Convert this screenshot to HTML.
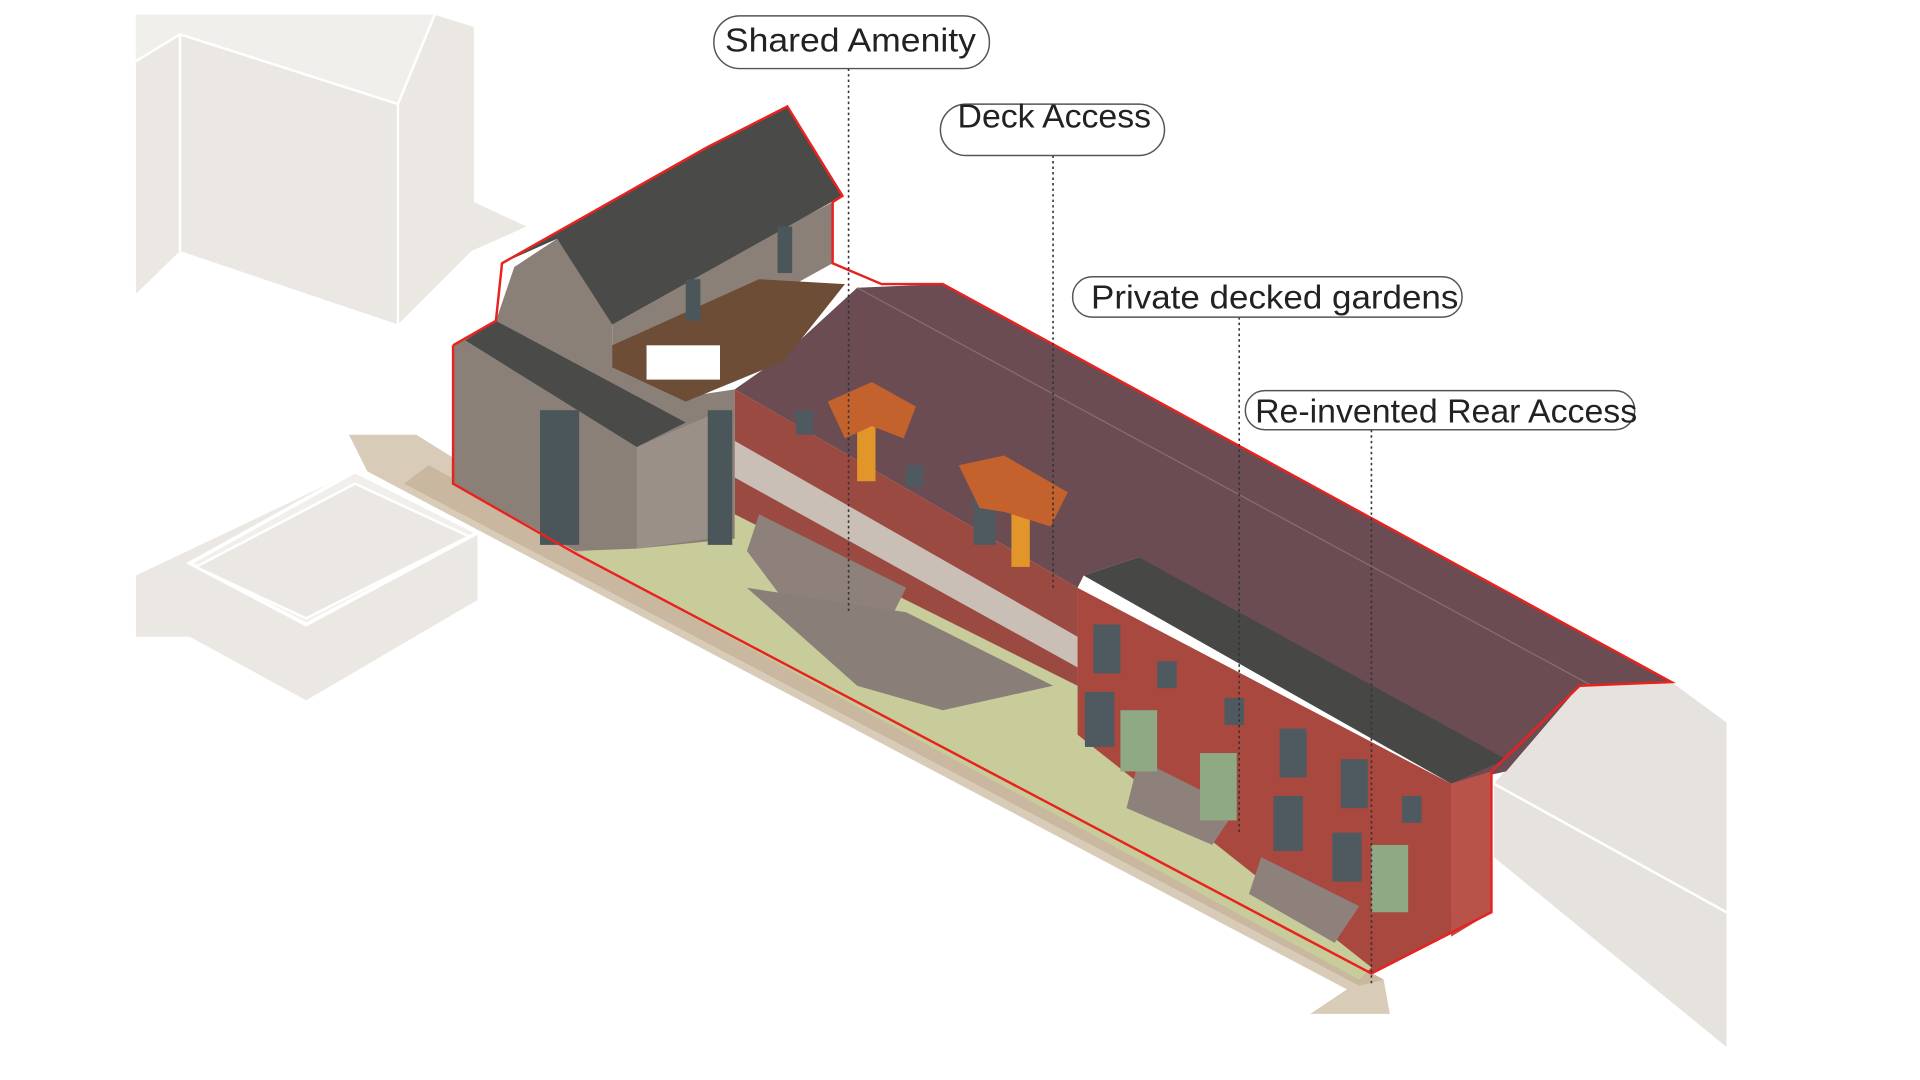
<!DOCTYPE html>
<html><head><meta charset="utf-8"><style>
html,body{margin:0;padding:0;background:#fff;width:1920px;height:1080px;overflow:hidden}
svg{display:block}
text{font-family:"Liberation Sans",sans-serif}
</style></head><body>
<svg width="1920" height="1080" viewBox="0 0 1568 882" preserveAspectRatio="none" xmlns="http://www.w3.org/2000/svg">
<polygon points="111,12 355,12 387,22 387,165 430,185 385,205 325,265 147,205 111,240" fill="#ebe8e4"/>
<polygon points="147,28 325,85 355,12 111,12 111,50" fill="#f1efec"/>
<polyline points="111,50 147,28 325,85 355,12" fill="none" stroke="#fff" stroke-width="2"/>
<line x1="147" y1="28" x2="147" y2="205" stroke="#fff" stroke-width="2"/>
<line x1="325" y1="85" x2="325" y2="265" stroke="#fff" stroke-width="2"/>
<polygon points="111,470 290,385 390,435 390,490 250,572 155,520 111,520" fill="#ebe8e4"/>
<polygon points="155,460 290,385 390,435 250,510" fill="#f1efec" stroke="#fff" stroke-width="3"/>
<polygon points="160,463 290,395 383,438 250,505" fill="#ebe8e4" stroke="#fff" stroke-width="2"/>
<polygon points="1220,640 1290,560 1365,557 1410,590 1410,855 1220,700" fill="#e6e3df"/>
<line x1="1220" y1="640" x2="1410" y2="745" stroke="#fff" stroke-width="2"/>
<polygon points="285,355 340,355 420,405 1130,800 1135,828 1070,828 1100,808 300,385" fill="#d8cbb8"/>
<polygon points="330,395 1110,805 1130,800 350,380" fill="#c9b89f"/>
<!-- tower gap fill -->
<polygon points="405,262 420,218 500,282 560,328 600,318 600,345 520,345" fill="#8b8078"/>
<polygon points="600,318 640,290 700,235 770,232 1365,557 1290,560 1230,630 1185,640 930,455 885,470 880,480" fill="#6b4c52"/>
<line x1="700" y1="235" x2="1300" y2="560" stroke="#8a6d70" stroke-width="1"/>
<polygon points="600,318 880,480 880,600 600,440" fill="#9b4a42"/>
<polygon points="600,360 880,520 880,545 600,390" fill="#c9bfb6"/>
<polygon points="885,470 930,455 1230,620 1185,640" fill="#474745"/>
<polygon points="880,480 1185,640 1218,630 1218,745 1120,795 880,600" fill="#a8483f"/>
<polygon points="1185,640 1218,630 1218,745 1185,765" fill="#b8534a"/>
<polygon points="470,452 600,420 880,560 880,600 1120,790 1110,800" fill="#c8cc9a"/>
<polygon points="620,420 740,480 720,520 640,490 610,450" fill="#8e817b"/>
<polygon points="610,480 740,500 860,560 770,580 700,560" fill="#8a7f78"/>
<polygon points="930,620 1010,660 990,690 920,660" fill="#8e817b"/>
<polygon points="1030,700 1110,740 1090,770 1020,730" fill="#8e817b"/>
<g fill="#4f5a60">
<rect x="893" y="510" width="22" height="40"/><rect x="945" y="540" width="16" height="22"/>
<rect x="1000" y="570" width="16" height="22"/><rect x="1045" y="595" width="22" height="40"/>
<rect x="1095" y="620" width="22" height="40"/><rect x="1145" y="650" width="16" height="22"/>
<rect x="886" y="565" width="24" height="45"/><rect x="1040" y="650" width="24" height="45"/><rect x="1088" y="680" width="24" height="40"/>
<rect x="795" y="405" width="18" height="40"/><rect x="650" y="335" width="14" height="20"/><rect x="740" y="380" width="14" height="18"/>
</g>
<g fill="#8fa985"><rect x="915" y="580" width="30" height="50"/><rect x="980" y="615" width="30" height="55"/><rect x="1120" y="690" width="30" height="55"/></g>
<rect x="826" y="415" width="15" height="48" fill="#e2962a"/>
<rect x="700" y="345" width="15" height="48" fill="#e2962a"/>
<polygon points="676,328 712,312 748,332 738,358 712,348 690,358" fill="#c4622d"/>
<polygon points="783,380 820,372 872,402 858,430 820,418 800,415" fill="#c4622d"/>
<polygon points="370,282 405,262 520,330 600,318 600,440 520,448 470,450 370,395" fill="#8b8078"/>
<polygon points="520,365 578,340 578,440 520,448" fill="#9a9088"/>
<polygon points="380,278 405,262 560,345 520,365" fill="#4a4a48"/>
<rect x="441" y="335" width="32" height="110" fill="#4b565b"/>
<rect x="578" y="335" width="20" height="110" fill="#4b565b"/>
<polygon points="420,218 455,195 500,260 500,300 420,270" fill="#8b8078"/>
<polygon points="500,260 680,165 680,215 620,248 500,300" fill="#8b8078"/>
<polygon points="410,215 578,120 643,87 688,160 500,265 455,195" fill="#4a4a48"/>
<polygon points="500,282 620,228 690,232 640,295 560,328 500,300" fill="#6e4d36"/>
<rect x="528" y="282" width="60" height="28" fill="#fff"/>
<rect x="635" y="185" width="12" height="38" fill="#4b565b"/><rect x="560" y="228" width="12" height="34" fill="#4b565b"/>
<polyline points="370,282 405,262 410,215 578,120 643,87 688,160 680,165 680,215 720,232 770,232 1365,557 1290,560 1218,630 1218,745 1120,795 470,452 370,395 370,282" fill="none" stroke="#e8231f" stroke-width="2"/>
<g stroke="#333" stroke-width="1.3" stroke-dasharray="2,2.5" fill="none">
<line x1="693" y1="56" x2="693" y2="500"/>
<line x1="860" y1="127" x2="860" y2="480"/>
<line x1="1012" y1="259" x2="1012" y2="680"/>
<line x1="1120" y1="351" x2="1120" y2="805"/>
</g>
<g fill="#fff" stroke="#555" stroke-width="1.2">
<rect x="583" y="13" width="225" height="43" rx="21"/>
<rect x="768" y="85" width="183" height="42" rx="21"/>
<rect x="876" y="226" width="318" height="33" rx="16"/>
<rect x="1017" y="319" width="318" height="32" rx="16"/>
</g>
<g fill="#222" font-size="27">
<text x="592" y="42" textLength="205" lengthAdjust="spacingAndGlyphs">Shared Amenity</text>
<text x="782" y="104" textLength="158" lengthAdjust="spacingAndGlyphs">Deck Access</text>
<text x="891" y="252" textLength="300" lengthAdjust="spacingAndGlyphs">Private decked gardens</text>
<text x="1025" y="345" textLength="312" lengthAdjust="spacingAndGlyphs">Re-invented Rear Access</text>
</g>
</svg>
</body></html>
